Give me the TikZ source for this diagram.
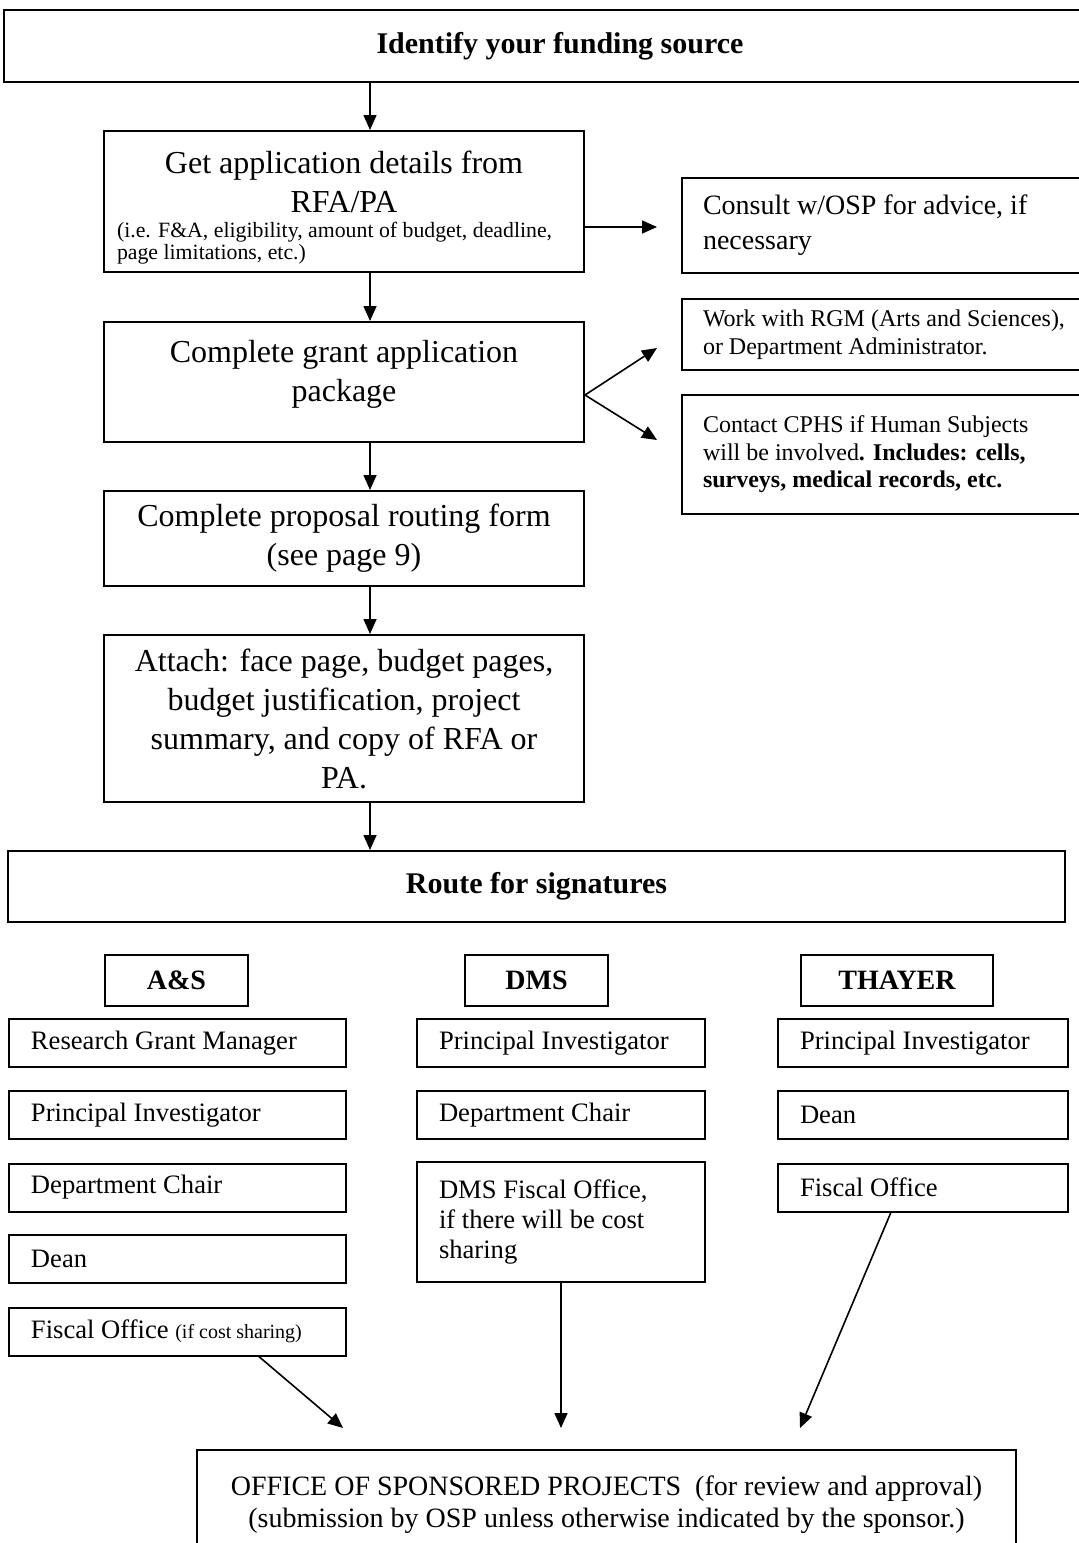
\documentclass[tikz,border=0pt]{standalone}
\usepackage{fontspec}
\setmainfont{Liberation Serif}
\usepackage{tikz}
\usetikzlibrary{calc,arrows.meta}

\begin{document}
\begin{tikzpicture}[x=0.5pt,y=-0.5pt]
  \tikzstyle{stage}=[draw,line width=1pt,align=center,inner sep=0pt,font=\fontsize{16}{19.5}\selectfont]
  \tikzstyle{banner}=[draw,line width=1pt,inner sep=0pt,font=\bfseries\fontsize{15}{18}\selectfont]
  \tikzstyle{note}=[draw,line width=1pt,anchor=west,align=flush left,inner xsep=10.5pt,inner ysep=0pt,text width=200pt]
  \tikzstyle{school}=[draw,line width=1pt,inner sep=0pt,minimum height=25.5pt,font=\bfseries\fontsize{14}{16}\selectfont]
  \tikzstyle{signer}=[draw,line width=1pt,anchor=west,align=flush left,inner xsep=11pt,inner ysep=0pt,minimum height=24pt,font=\fontsize{13.3}{15}\selectfont]
  \tikzstyle{colA}=[signer,text width=146.5pt]
  \tikzstyle{colD}=[signer,text width=122pt]
  \tikzstyle{colT}=[signer,text width=123pt]
  \tikzstyle{flow}=[line width=0.8pt,-{Triangle[length=7.5pt,width=6.5pt]}]

  \useasboundingbox (0,0) rectangle (1078,1543);
  \fill[white] (0,0) rectangle (1078,1543);

  % main column
  \node (fund) at (560,46) [banner,minimum width=556pt,minimum height=36pt] {Identify your funding source};
  \node (details) at (344,201.5) [stage,minimum width=240pt,minimum height=70.5pt]
    {\rule{0pt}{17pt}Get application details from\\ RFA/PA\\[-7pt]
     \parbox[t]{227pt}{\fontsize{10.9}{11}\selectfont (i.e. F\&A, eligibility, amount of budget, deadline,\\ page limitations, etc.)}};
  \node (grant) at (344,382) [stage,minimum width=240pt,minimum height=60pt] {Complete grant application\\ package\\[-8pt]};
  \node (routing) at (344,538.5) [stage,minimum width=240pt,minimum height=47.5pt] {Complete proposal routing form\\ (see page 9)};
  \node (attach) at (344,718.5) [stage,minimum width=240pt,minimum height=83.5pt]
    {Attach: face page, budget pages,\\ budget justification, project\\ summary, and copy of RFA or\\ PA.};

  % side notes
  \node (consult) at (681,225.5) [note,minimum height=47.5pt,font=\fontsize{14}{17.5}\selectfont] {Consult w/OSP for advice, if\\ necessary};
  \node (rgm) at (681,334.5) [note,minimum height=35.5pt,font=\fontsize{12}{14}\selectfont] {Work with RGM (Arts and Sciences),\\ or Department Administrator.};
  \node (cphs) at (681,454.5) [note,minimum height=59.5pt,font=\fontsize{12}{13.75}\selectfont]
    {Contact CPHS if Human Subjects\\ will be involved\textbf{. Includes: cells,}\\ \textbf{surveys, medical records, etc.}};

  % signatures
  \node (route) at (536.5,886.5) [banner,minimum width=528.5pt,minimum height=35.5pt] {Route for signatures};
  \node (as) at (176.5,980.5) [school,minimum width=71.5pt] {A\&S};
  \node (dms) at (536.5,980.5) [school,minimum width=71.5pt] {DMS};
  \node (thayer) at (897,980.5) [school,minimum width=96pt] {THAYER};

  \node (rgmA) at (8,1043) [colA] {Research Grant Manager};
  \node (piA) at (8,1115) [colA] {Principal Investigator};
  \node (chairA) at (8,1187.5) [colA] {Department Chair};
  \node (deanA) at (8,1259) [colA] {Dean};
  \node (fiscA) at (8,1331.5) [colA] {Fiscal Office {\fontsize{10}{12}\selectfont (if cost sharing)}};

  \node (piD) at (416,1043) [colD] {Principal Investigator};
  \node (chairD) at (416,1115) [colD] {Department Chair};
  \node (dmsF) at (416,1222) [colD,minimum height=60pt] {DMS Fiscal Office,\\ if there will be cost\\ sharing};

  \node (piT) at (777,1043) [colT] {Principal Investigator};
  \node (deanT) at (777,1115) [colT] {Dean};
  \node (fiscT) at (777,1187.5) [colT] {Fiscal Office};

  \node (osp) at (606.5,1505) [stage,minimum width=409.5pt,minimum height=55pt,font=\fontsize{14}{16}\selectfont]
    {OFFICE OF SPONSORED PROJECTS\ \ (for review and approval)\\ (submission by OSP unless otherwise indicated by the sponsor.)};

  % connectors
  \coordinate (spine) at (370,0);
  \coordinate (askosp) at (657,227);
  \coordinate (fork) at ($(grant.east)+(0,13)$);
  \coordinate (torgm) at (657,348);
  \coordinate (tocphs) at (657,440);
  \coordinate (landing) at (0,1428);
  \coordinate (ospA) at (343,1428);
  \coordinate (ospT) at (800,1428);

  \draw[flow] (fund.south -| spine) -- (details.north -| spine);
  \draw[flow] (details.south -| spine) -- (grant.north -| spine);
  \draw[flow] (grant.south -| spine) -- (routing.north -| spine);
  \draw[flow] (routing.south -| spine) -- (attach.north -| spine);
  \draw[flow] (attach.south -| spine) -- (route.north -| spine);
  \draw[flow] (details.east |- askosp) -- (askosp);
  \draw[flow] (fork) -- (torgm);
  \draw[flow] (fork) -- (tocphs);
  \draw[flow] ($(fiscA.south west)!0.74!(fiscA.south east)$) -- (ospA);
  \draw[flow] (dmsF.south) -- (dmsF.south |- landing);
  \draw[flow] ($(fiscT.south west)!0.39!(fiscT.south east)$) -- (ospT);
\end{tikzpicture}
\end{document}
